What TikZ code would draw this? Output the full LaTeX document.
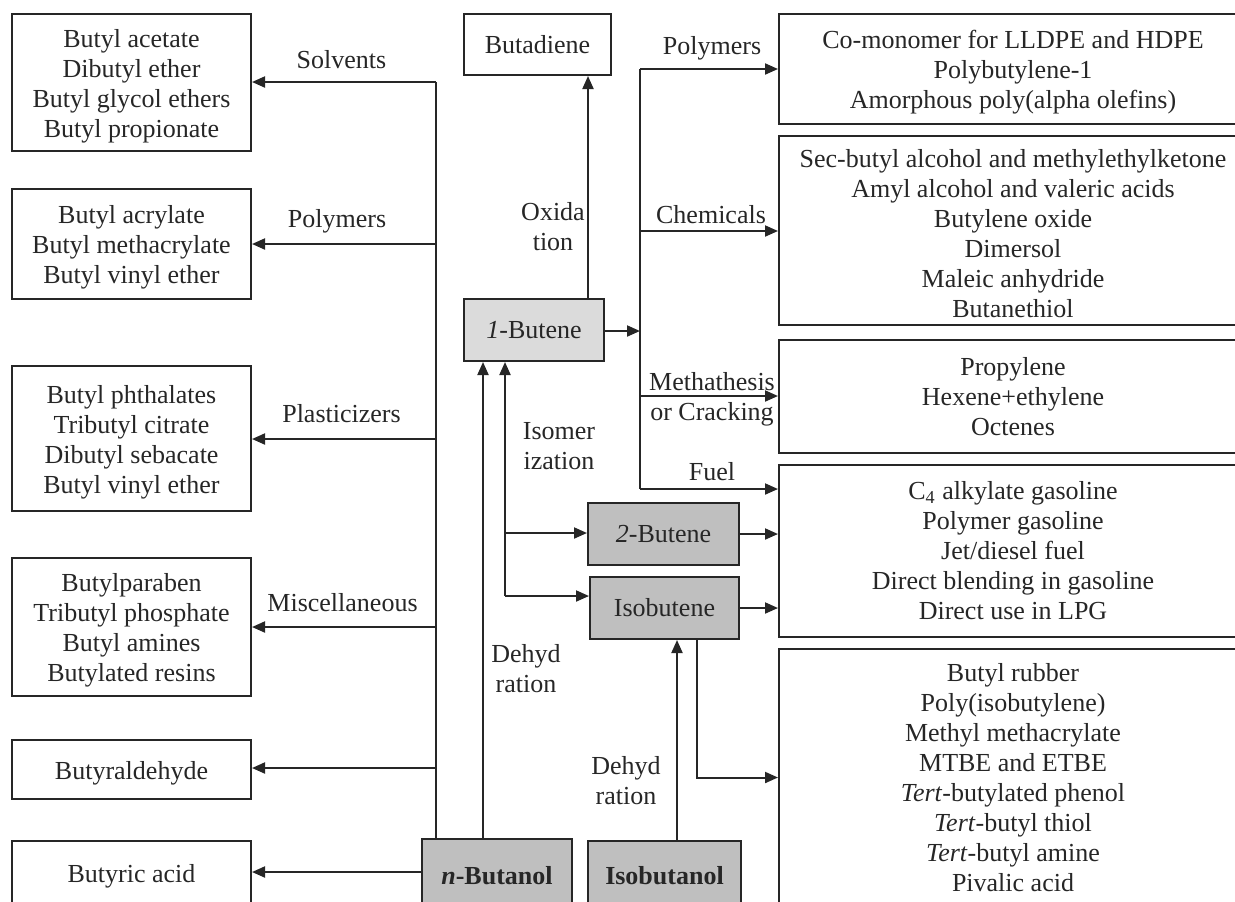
\documentclass[tikz,border=0pt]{standalone}
\usepackage{fontspec}
\setmainfont{Liberation Serif}
\usetikzlibrary{arrows.meta}
% strut that lowers the text block inside a box
\newcommand{\topstrut}{\rule{0pt}{12.6pt}}
\begin{document}
\begin{tikzpicture}[x=0.5pt,y=-0.5pt,
  every node/.style={font=\fontsize{13pt}{15pt}\selectfont, text=black!85},
  box/.style={draw=black!85, line width=1pt, align=center, inner sep=0pt},
  link/.style={draw=black!85, line width=1pt},
  arr/.style={link, -{Triangle[length=6.5pt,width=5.5pt]}},
  lbl/.style={anchor=base, inner sep=0pt, align=center}]
\useasboundingbox (0,0) rectangle (1235,901);

% ---- products of n-butanol (left column)
\node[box, minimum width=119.5pt, minimum height=68.5pt] (L1) at (131.5,82.5)
  {\topstrut Butyl acetate\\Dibutyl ether\\Butyl glycol ethers\\Butyl propionate};
\node[box, minimum width=119.5pt, minimum height=55pt] (L2) at (131.5,244)
  {\topstrut Butyl acrylate\\Butyl methacrylate\\Butyl vinyl ether};
\node[box, minimum width=119.5pt, minimum height=72.5pt] (L3) at (131.5,438.5)
  {\topstrut Butyl phthalates\\Tributyl citrate\\Dibutyl sebacate\\Butyl vinyl ether};
\node[box, minimum width=119.5pt, minimum height=69pt] (L4) at (131.5,627)
  {\topstrut Butylparaben\\Tributyl phosphate\\Butyl amines\\Butylated resins};
\node[box, minimum width=119.5pt, minimum height=29.5pt] (L5) at (131.5,769.5)
  {\topstrut Butyraldehyde};
\node[box, minimum width=119.5pt, minimum height=32pt] (L6) at (131.5,873)
  {\topstrut Butyric acid};

% ---- alcohols and olefins
\node[box, fill=black!25, minimum width=75pt, minimum height=37pt] (nbut) at (497,876)
  {\textbf{\textit{n}-Butanol}};
\node[box, fill=black!25, minimum width=76.5pt, minimum height=35pt] (ibut) at (664.5,876)
  {\textbf{Isobutanol}};
\node[box, fill=black!14, minimum width=70pt, minimum height=31pt] (b1) at (534,330)
  {\textit{1}-Butene};
\node[box, minimum width=73.5pt, minimum height=30.5pt] (bd) at (537.5,44.5)
  {Butadiene};
\node[box, fill=black!25, minimum width=75.5pt, minimum height=31pt] (b2) at (663.5,534)
  {\textit{2}-Butene};
\node[box, fill=black!25, minimum width=74.5pt, minimum height=31pt] (ib) at (664.5,608)
  {Isobutene};

% ---- products of the butenes (right column)
\node[box, minimum width=234pt, minimum height=55pt] (R1) at (1013,69)
  {\topstrut Co-monomer for LLDPE and HDPE\\Polybutylene-1\\Amorphous poly(alpha olefins)};
\node[box, minimum width=234pt, minimum height=94.5pt] (R2) at (1013,230.5)
  {\topstrut Sec-butyl alcohol and methylethylketone\\Amyl alcohol and valeric acids\\Butylene oxide\\Dimersol\\Maleic anhydride\\Butanethiol};
\node[box, minimum width=234pt, minimum height=56.5pt] (R3) at (1013,396.5)
  {Propylene\\Hexene+ethylene\\Octenes};
\node[box, minimum width=234pt, minimum height=86pt] (R4) at (1013,551)
  {C\textsubscript{4} alkylate gasoline\\Polymer gasoline\\Jet/diesel fuel\\Direct blending in gasoline\\Direct use in LPG};
\node[box, minimum width=234pt, minimum height=128.5pt] (R5) at (1013,777.5)
  {Butyl rubber\\Poly(isobutylene)\\Methyl methacrylate\\MTBE and ETBE\\\textit{Tert}-butylated phenol\\\textit{Tert}-butyl thiol\\\textit{Tert}-butyl amine\\Pivalic acid};

% ---- n-butanol trunk to the left column
\coordinate (s1) at (436,82);
\coordinate (s2) at (436,244);
\coordinate (s3) at (436,439);
\coordinate (s4) at (436,627);
\coordinate (s5) at (436,768);
\coordinate (s6) at (436,872);
\draw[link] (nbut.north -| s1) -- (s1);
\draw[arr] (s1) -- (s1 -| L1.east);
\draw[arr] (s2) -- (s2 -| L2.east);
\draw[arr] (s3) -- (s3 -| L3.east);
\draw[arr] (s4) -- (s4 -| L4.east);
\draw[arr] (s5) -- (s5 -| L5.east);
\draw[arr] (nbut.west |- s6) -- (s6 -| L6.east);
\node[lbl] (tSolv) at (341.5,68) {Solvents};
\node[lbl] (tPolyL) at (337,227) {Polymers};
\node[lbl] (tPlast) at (341.5,422) {Plasticizers};
\node[lbl] (tMisc) at (342.5,611) {Miscellaneous};

% ---- 1-butene hub to the right column
\coordinate (h0) at (640,331);
\coordinate (h1) at (640,69);
\coordinate (h2) at (640,231);
\coordinate (h3) at (640,396);
\coordinate (h4) at (640,489);
\draw[arr] (b1.east |- h0) -- (h0);
\draw[link] (h1) -- (h4);
\draw[arr] (h1) -- (h1 -| R1.west);
\draw[arr] (h2) -- (h2 -| R2.west);
\draw[arr] (h3) -- (h3 -| R3.west);
\draw[arr] (h4) -- (h4 -| R4.west);
\node[lbl] (tPolyR) at (712,54) {Polymers};
\node[lbl] (tChem) at (711,223) {Chemicals};
\node[lbl] (tMeta) at (712,420) {Methathesis\\or Cracking};
\node[lbl] (tFuel) at (712,480) {Fuel};

% ---- oxidation
\coordinate (ox) at (588,0);
\draw[arr] (b1.north -| ox) -- (bd.south -| ox);
\node[lbl] (tOxi) at (553,250) {Oxida\\tion};

% ---- dehydration of n-butanol
\coordinate (dn) at (483,0);
\draw[arr] (nbut.north -| dn) -- (b1.south -| dn);
\node[lbl] (tDehN) at (526,692) {Dehyd\\ration};

% ---- isomerization
\coordinate (j1) at (505,533);
\coordinate (j2) at (505,596);
\draw[arr] (j2) -- (j2 |- b1.south);
\draw[arr] (j1) -- (j1 -| b2.west);
\draw[arr] (j2) -- (j2 -| ib.west);
\node[lbl] (tIsom) at (559,469) {Isomer\\ization};

% ---- 2-butene and isobutene outlets
\draw[arr] (b2.east) -- (b2.east -| R4.west);
\draw[arr] (ib.east) -- (ib.east -| R4.west);
\coordinate (k) at (697,0);
\draw[arr] (ib.south -| k) |- (R5.west);

% ---- dehydration of isobutanol
\coordinate (m) at (677,0);
\draw[arr] (ibut.north -| m) -- (ib.south -| m);
\node[lbl] (tDehI) at (626,804) {Dehyd\\ration};
\end{tikzpicture}
\end{document}
